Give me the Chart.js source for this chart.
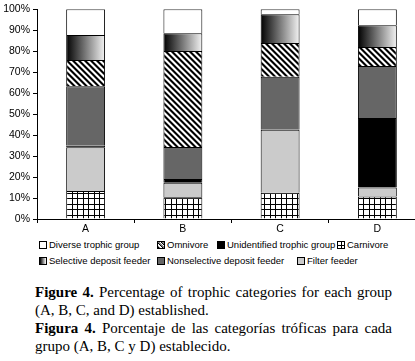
<!DOCTYPE html>
<html>
<head>
<meta charset="utf-8">
<script src="https://cdn.jsdelivr.net/npm/chart.js@4"></script>
<style>
  body { margin: 0; background: #fff; width: 415px; height: 361px; overflow: hidden; position: relative; }
  #wrap { position: absolute; left: 0; top: 0; width: 415px; height: 237px; overflow: hidden; }
  #legend { position: absolute; left: 0; top: 0; font: 9.5px "Liberation Sans", Arial, sans-serif; color: #000; }
  .item { position: absolute; white-space: nowrap; height: 12px; line-height: 12px; }
  .sw { display: inline-block; width: 8px; height: 8px; box-sizing: border-box; border: 1px solid #000; vertical-align: -1px; margin-right: 2px; }
  #caption { position: absolute; left: 35px; top: 283px; width: 357px; font: 15px "Liberation Serif", "Times New Roman", serif; line-height: 18px; text-align: justify; color: #000; }
  #caption p { margin: 0; }
</style>
</head>
<body>
<div id="wrap"><canvas id="trophicChart" width="430" height="237"></canvas></div>

<div id="legend">
  <div class="item" style="left:39px;top:239px"><span class="sw" style="background:#fff"></span>Diverse trophic group</div>
  <div class="item" style="left:157px;top:239px"><span class="sw" style="background:repeating-linear-gradient(45deg,#000 0 1px,#888 1px 2px,#fff 2px 3px)"></span>Omnivore</div>
  <div class="item" style="left:217px;top:239px"><span class="sw" style="background:#000"></span>Unidentified trophic group</div>
  <div class="item" style="left:337px;top:239px"><span class="sw" style="background:linear-gradient(#000,#000) center/1px 100% no-repeat,linear-gradient(#000,#000) center/100% 1px no-repeat,#fff"></span>Carnivore</div>
  <div class="item" style="left:39px;top:255px"><span class="sw" style="background:linear-gradient(to right,#000,#fff)"></span>Selective deposit feeder</div>
  <div class="item" style="left:157px;top:255px"><span class="sw" style="background:#666"></span>Nonselective deposit feeder</div>
  <div class="item" style="left:297px;top:255px"><span class="sw" style="background:#cbcbcb"></span>Filter feeder</div>
</div>

<div id="caption">
  <p><b>Figure 4.</b> Percentage of trophic categories for each group (A, B, C, and D) established.</p>
  <p><b>Figura 4.</b> Porcentaje de las categorías tróficas para cada grupo (A, B, C y D) establecido.</p>
</div>

<script>
// percentages, bottom of stack first
const groups = ["A", "B", "C", "D"];
const carnivore = [13.4, 10.4, 12.5, 10.7];
const filterFeeder = [20.8, 6.9, 30.1, 4.3];
const unidentified = [0.7, 1.8, 0, 33.2];
const nonselective = [28.4, 15.2, 25.2, 24.8];
const omnivore = [12.5, 45.8, 16.1, 9.0];
const selective = [11.9, 8.5, 13.7, 10.4];
const diverse = [12.3, 11.4, 2.4, 7.6];
const yTicks = [0, 10, 20, 30, 40, 50, 60, 70, 80, 90, 100];

function gridPattern() {
  const c = document.createElement("canvas");
  c.width = 11;
  c.height = 11;
  const g = c.getContext("2d");
  g.fillStyle = "#fff";
  g.fillRect(0, 0, 11, 11);
  g.fillStyle = "#000";
  g.fillRect(0, 0, 11, 1);
  g.fillRect(0, 6, 11, 1);
  g.fillRect(0, 0, 1, 11);
  g.fillRect(6, 0, 1, 11);
  return g.createPattern(c, "repeat");
}

function stripePattern() {
  const n = 6;
  const c = document.createElement("canvas");
  c.width = n;
  c.height = n;
  const g = c.getContext("2d");
  const cols = ["#000000", "#000000", "#9a9a9a", "#ffffff", "#ffffff", "#6a6a6a"];
  for (let y = 0; y < n; y++) {
    for (let x = 0; x < n; x++) {
      g.fillStyle = cols[(x - y + n * 2) % n];
      g.fillRect(x, y, 1, 1);
    }
  }
  return g.createPattern(c, "repeat");
}

// placeholder, replaced per bar by the gradient plugin below
const gradientFill = (context) => "#808080";

// horizontal black -> white across each "Selective deposit feeder" bar
const barGradientPlugin = {
  id: "barGradient",
  beforeDatasetsDraw(chart) {
    chart.data.datasets.forEach((ds, i) => {
      if (ds.backgroundColor !== gradientFill) return;
      chart.getDatasetMeta(i).data.forEach((bar) => {
        const half = bar.width / 2;
        const grad = chart.ctx.createLinearGradient(bar.x - half, 0, bar.x + half, 0);
        grad.addColorStop(0, "#000");
        grad.addColorStop(1, "#f4f4f4");
        bar.options.backgroundColor = grad;
      });
    });
  },
};

function series(label, data, bg) {
  return {
    label: label,
    data: data,
    backgroundColor: bg,
    borderColor: "#000",
    borderWidth: { top: 1, left: 1, right: 1, bottom: 0 },
    borderSkipped: false,
    categoryPercentage: 1,
    barPercentage: 0.4,
  };
}

const tickFont = { family: "'Liberation Sans', Arial, sans-serif", size: 10.5 };

const ctx = document.getElementById("trophicChart").getContext("2d");
const trophicChart = new Chart(ctx, {
  type: "bar",
  data: {
    labels: groups,
    datasets: [
      series("Carnivore", carnivore, gridPattern()),
      series("Filter feeder", filterFeeder, "#cbcbcb"),
      series("Unidentified trophic group", unidentified, "#000"),
      series("Nonselective deposit feeder", nonselective, "#666666"),
      series("Omnivore", omnivore, stripePattern()),
      series("Selective deposit feeder", selective, gradientFill),
      series("Diverse trophic group", diverse, "#fff"),
    ],
  },
  plugins: [barGradientPlugin],
  options: {
    responsive: false,
    animation: false,
    layout: { padding: { top: 8, right: 4, left: 0, bottom: 0 } },
    plugins: {
      legend: { display: false },
      tooltip: { enabled: false },
    },
    scales: {
      x: {
        stacked: true,
        offset: true,
        grid: {
          offset: true,
          drawOnChartArea: false,
          drawTicks: true,
          tickLength: 4,
          color: "#000",
        },
        border: { display: true, color: "#000", width: 1 },
        ticks: { color: "#000", font: tickFont, padding: 0, maxRotation: 0 },
        afterFit: (scale) => {
          scale.height = 18;
        },
      },
      y: {
        stacked: true,
        min: 0,
        max: 100,
        afterBuildTicks: (scale) => {
          scale.ticks = yTicks.map((v) => ({ value: v }));
        },
        grid: {
          drawOnChartArea: false,
          drawTicks: true,
          tickLength: 4,
          color: "#000",
        },
        border: { display: true, color: "#000", width: 1 },
        ticks: {
          color: "#000",
          font: tickFont,
          padding: 3,
          callback: (value) => value + "%",
        },
        afterFit: (scale) => {
          scale.width = 37;
        },
      },
    },
  },
});
</script>
</body>
</html>
